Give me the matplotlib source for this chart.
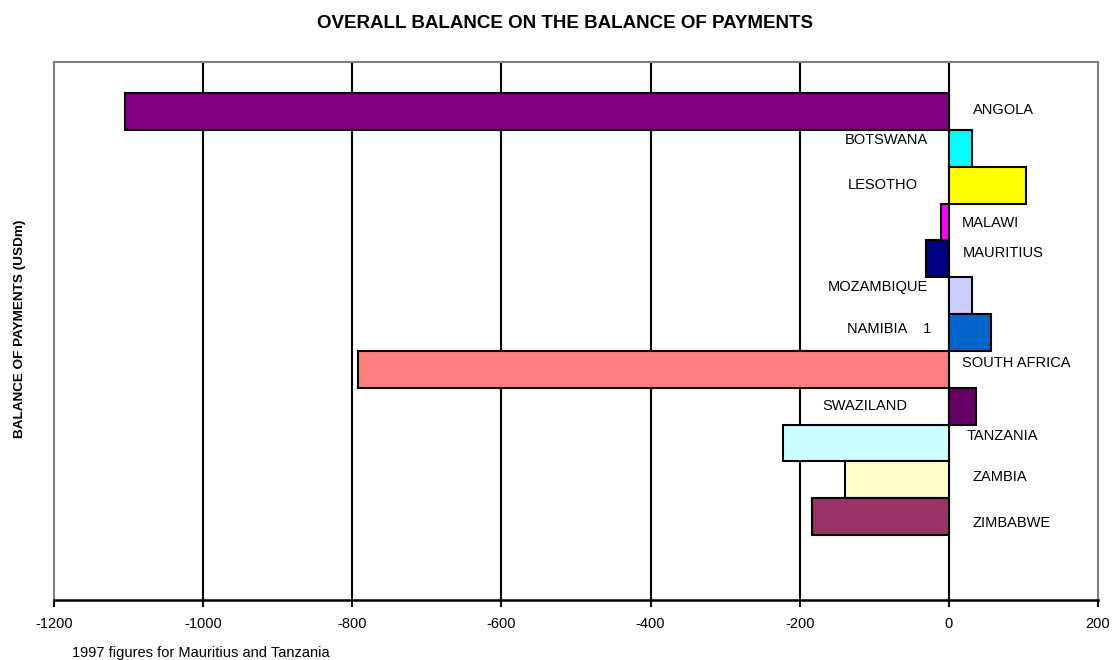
import matplotlib
matplotlib.use("Agg")
import matplotlib.pyplot as plt

plt.rcParams['font.family'] = ['Liberation Sans', 'DejaVu Sans']

countries = ["ANGOLA", "BOTSWANA", "LESOTHO", "MALAWI", "MAURITIUS", "MOZAMBIQUE",
             "NAMIBIA", "SOUTH AFRICA", "SWAZILAND", "TANZANIA", "ZAMBIA", "ZIMBABWE"]
balance = [-1105, 31, 104, -10, -30, 31, 56, -793, 37, -223, -139, -183]
label_text = ["ANGOLA", "BOTSWANA", "LESOTHO", "MALAWI", "MAURITIUS", "MOZAMBIQUE",
              "NAMIBIA    1", "SOUTH AFRICA", "SWAZILAND", "TANZANIA", "ZAMBIA", "ZIMBABWE"]
x_ticks = [-1200, -1000, -800, -600, -400, -200, 0, 200]

colors = ["#800080", "#00FFFF", "#FFFF00", "#FF00FF", "#000080", "#CCCCFF",
          "#0066CC", "#FF8080", "#660066", "#CCFFFF", "#FFFFCC", "#993366"]

# label placement (x in data units, y offset from bar centre)
label_x = [32, -28, -42, 17, 19, -28, -23, 17, -55, 24, 32, 32]
label_dy = [-0.04, -0.23, -0.004, 0.03, -0.16, -0.23, -0.09, -0.17, 0.0, -0.19, -0.08, 0.17]

fig = plt.figure(figsize=(11.13, 6.60), dpi=100)
ax = fig.add_axes([54 / 1113, 60 / 660, (1098 - 54) / 1113, (600 - 62) / 660])

ypos = list(range(len(countries)))
ax.barh(ypos, balance, height=1.0, color=colors, edgecolor="black",
        linewidth=1.5, zorder=3)

for i, (txt, lx, dy) in enumerate(zip(label_text, label_x, label_dy)):
    ha = "left" if lx > 0 else "right"
    ax.text(lx, i + dy, txt, ha=ha, va="center", fontsize=10.5, color="black", zorder=4)

ax.set_xlim(-1200, 200)
ax.set_ylim(13.26, -1.344)
ax.set_xticks(x_ticks)
ax.set_xticklabels([str(t) for t in x_ticks], fontsize=10.5)
ax.set_yticks([])
ax.tick_params(axis="x", direction="out", length=5, width=1.5, color="black", pad=7.5)

for xv in x_ticks[1:-1]:
    ax.axvline(xv, color="black", linewidth=1.5, zorder=1)

for side in ["top", "right", "left"]:
    ax.spines[side].set_color("#808080")
    ax.spines[side].set_linewidth(1.5)
ax.spines["bottom"].set_color("black")
ax.spines["bottom"].set_linewidth(1.8)
ax.spines["bottom"].set_zorder(5)

fig.text(565 / 1113, 1 - 24 / 660, "OVERALL BALANCE ON THE BALANCE OF PAYMENTS",
         ha="center", va="center", fontsize=13.5, fontweight="bold")
fig.text(20 / 1113, 1 - 329 / 660, "BALANCE OF PAYMENTS (USDm)", rotation=90,
         ha="center", va="center", fontsize=9.7, fontweight="bold")
fig.text(72 / 1113, 1 - 653 / 660, "1997 figures for Mauritius and Tanzania",
         ha="left", va="center", fontsize=10.5)

fig.savefig("out.png", dpi=100, facecolor="white")
